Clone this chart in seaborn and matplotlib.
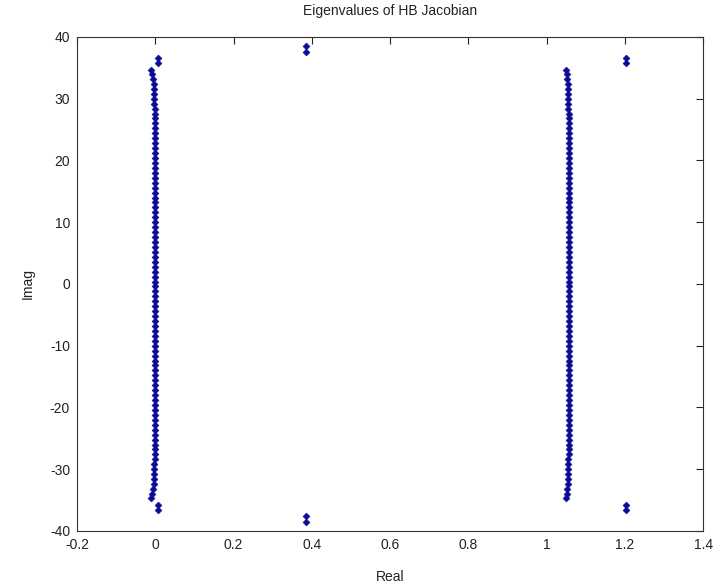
import matplotlib
matplotlib.use("Agg")
import matplotlib.pyplot as plt
import seaborn as sns
import pandas as pd

# Positive imaginary parts of the two dense columns (conjugates mirrored below)
col_imag = [0.4, 1.2, 2.0, 2.8, 3.6, 4.4, 5.2, 6.0, 6.8, 7.6, 8.4, 9.2, 10.0, 10.8,
            11.6, 12.4, 13.2, 14.0, 14.8, 15.6, 16.4, 17.2, 18.0, 18.8, 19.6, 20.4,
            21.2, 22.0, 22.8, 23.6, 24.4, 25.2, 26.0, 26.8, 27.6, 28.4, 29.2, 30.0,
            30.8, 31.6, 32.4, 33.2, 34.0, 34.7]
left_real = [-0.002, -0.002, -0.002, -0.002, -0.002, -0.002, -0.002, -0.002,
             -0.002, -0.002, -0.002, -0.002, -0.002, -0.002, -0.002, -0.002,
             -0.002, -0.002, -0.002, -0.002, -0.002, -0.002, -0.002, -0.002,
             -0.002, -0.002, -0.002, -0.002, -0.002, -0.002, -0.002, -0.002,
             -0.002, -0.002, -0.002, -0.002, -0.003, -0.003, -0.003, -0.004,
             -0.004, -0.005, -0.008, -0.012]
right_real = [1.057, 1.057, 1.057, 1.057, 1.057, 1.057, 1.057, 1.057,
              1.057, 1.057, 1.057, 1.057, 1.057, 1.057, 1.057, 1.057,
              1.057, 1.057, 1.057, 1.057, 1.057, 1.057, 1.057, 1.057,
              1.057, 1.057, 1.057, 1.057, 1.057, 1.057, 1.057, 1.057,
              1.057, 1.057, 1.057, 1.056, 1.056, 1.056, 1.055, 1.055,
              1.054, 1.053, 1.051, 1.049]
# Isolated eigenvalue pairs (positive imaginary parts)
extra_real = [0.008, 0.008, 0.386, 0.386, 1.204, 1.204]
extra_imag = [35.8, 36.6, 37.6, 38.5, 35.8, 36.6]

reals = left_real + right_real + extra_real
imags = col_imag + col_imag + extra_imag
df_pos = pd.DataFrame({"real": reals, "imag": imags})
df_neg = pd.DataFrame({"real": reals, "imag": [-v for v in imags]})
df = pd.concat([df_pos, df_neg], ignore_index=True)

x_ticks = [-0.2, 0, 0.2, 0.4, 0.6, 0.8, 1, 1.2, 1.4]
x_labels = ["-0.2", "0", "0.2", "0.4", "0.6", "0.8", "1", "1.2", "1.4"]
y_ticks = [-40, -30, -20, -10, 0, 10, 20, 30, 40]
y_labels = ["-40", "-30", "-20", "-10", "0", "10", "20", "30", "40"]

sns.set_theme(style="white")
plt.rcParams["font.family"] = ["Liberation Sans", "DejaVu Sans"]

fig = plt.figure(figsize=(7.2, 5.86), dpi=100)
ax = fig.add_axes([0.107, 0.0939, 0.8695, 0.8430])
sns.scatterplot(data=df, x="real", y="imag", marker="D", s=13,
                color="#0a0aa0", edgecolor="#0a0aa0", linewidth=0.3,
                ax=ax, legend=False)

ax.set_xlim(-0.2, 1.4)
ax.set_ylim(-40, 40)
ax.set_xticks(x_ticks)
ax.set_xticklabels(x_labels)
ax.set_yticks(y_ticks)
ax.set_yticklabels(y_labels)
ax.tick_params(direction="in", top=True, right=True, length=5, width=0.8,
               labelsize=10, colors="#222222", labelcolor="#222222", pad=5)
for sp in ax.spines.values():
    sp.set_visible(True)
    sp.set_color("#333333")
    sp.set_linewidth(0.8)

ax.set_title("Eigenvalues of HB Jacobian", fontsize=10, pad=16, color="#222222")
ax.set_xlabel("Real", fontsize=10, color="#222222", labelpad=13)
ax.set_ylabel("Imag", fontsize=10, color="#222222", labelpad=11)

fig.savefig("out.png", dpi=100)
